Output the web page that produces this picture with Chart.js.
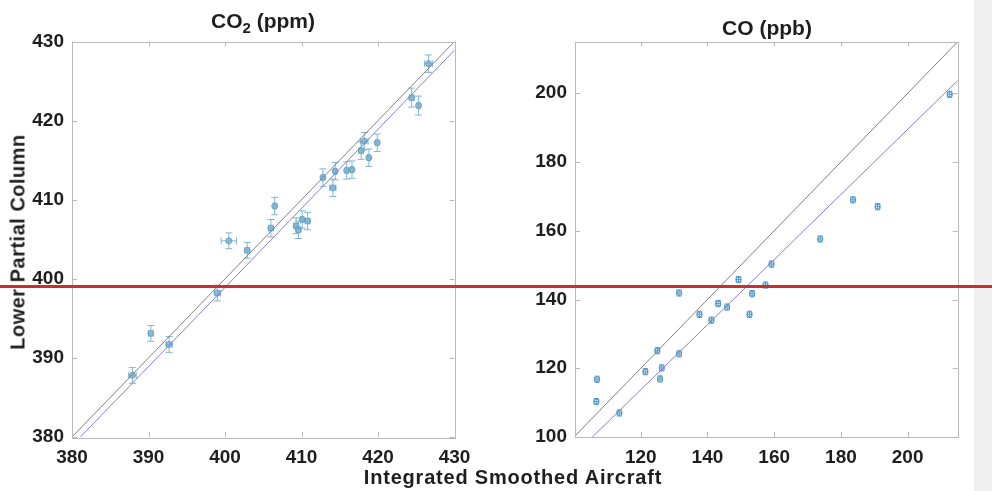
<!DOCTYPE html>
<html>
<head>
<meta charset="utf-8">
<script src="https://cdn.jsdelivr.net/npm/chart.js@4"></script>
<style>
  body { margin: 0; background: #fff; width: 992px; height: 491px; overflow: hidden; position: relative;
         font-family: "Liberation Sans", Arial, sans-serif; color: #1e1e1e; }
  .box { position: absolute; top: 0; height: 491px; }
  #leftBox { left: 0; width: 480px; }
  #rightBox { left: 490px; width: 484px; }
  #strip { position: absolute; left: 974px; top: 0; width: 18px; height: 491px; background: #f0f0f0; }
  .lbl { position: absolute; font-weight: bold; white-space: nowrap; }
  #t1 { left: 263px; top: 9px; font-size: 21px; transform: translateX(-50%); }
  #t1 sub { font-size: 15px; vertical-align: -5px; }
  #t2 { left: 767px; top: 16px; font-size: 21px; transform: translateX(-50%); }
  #ylab { left: 18px; top: 242px; font-size: 20px; letter-spacing: 0.5px; transform: translate(-50%, -50%) rotate(-90deg); }
  #xlab { left: 513px; top: 466px; font-size: 20px; letter-spacing: 0.8px; transform: translateX(-50%); }
  #redline { position: absolute; left: 0; top: 285px; width: 992px; height: 3px; background: #c8302c; }
</style>
</head>
<body>
<div id="strip"></div>
<div class="box" id="leftBox"><canvas id="co2_chart"></canvas></div>
<div class="box" id="rightBox"><canvas id="co_chart"></canvas></div>
<div class="lbl" id="t1">CO<sub>2</sub> (ppm)</div>
<div class="lbl" id="t2">CO (ppb)</div>
<div class="lbl" id="ylab">Lower Partial Column</div>
<div class="lbl" id="xlab">Integrated Smoothed Aircraft</div>
<div id="redline"></div>
<script>
// CO2 (ppm): aircraft vs lower partial column
var co2X = [387.9, 390.3, 392.7, 399.0, 400.5, 402.9, 406.0, 406.5, 409.3, 409.6, 410.1, 410.8,
            412.8, 414.1, 414.4, 415.9, 416.6, 417.8, 418.2, 418.8, 419.9, 424.4, 425.3, 426.6];
var co2Y = [387.8, 393.1, 391.7, 398.2, 404.8, 403.6, 406.4, 409.2, 406.7, 406.2, 407.5, 407.3,
            412.8, 411.5, 413.6, 413.7, 413.8, 416.2, 417.4, 415.3, 417.2, 422.9, 421.9, 427.2];
var co2ErrX = [0.5, 0.3, 0.4, 0.4, 1.0, 0.3, 0.3, 0.2, 0.3, 0.3, 0.2, 0.3,
               0.2, 0.4, 0.2, 0.2, 0.2, 0.3, 0.5, 0.2, 0.2, 0.3, 0.2, 0.5];
var co2ErrY = [1.0, 1.0, 1.0, 1.0, 1.0, 1.0, 1.1, 1.1, 1.0, 1.1, 1.1, 1.1,
               1.1, 1.1, 1.1, 1.1, 1.1, 1.1, 1.1, 1.1, 1.1, 1.2, 1.2, 1.1];
var co2OneX = [380, 430];
var co2FitX = [381.1, 430];
var co2FitY = [380, 428.9];
var co2Ticks = [380, 390, 400, 410, 420, 430];

// CO (ppb)
var coX = [106.7, 106.9, 113.6, 121.4, 125.0, 125.8, 126.3, 131.5, 131.5, 137.6, 141.2,
           143.2, 145.9, 149.3, 152.6, 153.4, 157.4, 159.2, 173.8, 183.6, 191.0, 212.6];
var coY = [110.3, 116.8, 107.0, 119.0, 125.1, 116.9, 120.1, 124.2, 141.9, 135.7, 134.0,
           138.8, 137.8, 145.8, 135.7, 141.7, 144.2, 150.3, 157.6, 169.0, 167.0, 199.7];
var coErrX = 0.7;
var coErrY = 0.9;
var coOneX = [100.3, 215];
var coFitX = [105.5, 215];
var coFitY = [100, 203.7];
var coTicksX = [120, 140, 160, 180, 200];
var coTicksY = [100, 120, 140, 160, 180, 200];

function pts(xs, ys) {
    var out = [];
    for (var i = 0; i < xs.length; i++) out.push({ x: xs[i], y: ys[i] });
    return out;
}

// error bars drawn through the chart scales
var errorBars = {
    id: 'errorBars',
    beforeDatasetsDraw: function (chart) {
        var ctx = chart.ctx, xs = chart.scales.x, ys = chart.scales.y;
        chart.data.datasets.forEach(function (ds) {
            if (!ds.errY) return;
            ctx.save();
            ctx.strokeStyle = ds.errColor;
            ctx.lineWidth = 1;
            var cap = ds.capSize;
            ds.data.forEach(function (p, i) {
                var ex = Array.isArray(ds.errX) ? ds.errX[i] : ds.errX;
                var ey = Array.isArray(ds.errY) ? ds.errY[i] : ds.errY;
                var px = xs.getPixelForValue(p.x), py = ys.getPixelForValue(p.y);
                var y1 = ys.getPixelForValue(p.y + ey), y2 = ys.getPixelForValue(p.y - ey);
                var x1 = xs.getPixelForValue(p.x - ex), x2 = xs.getPixelForValue(p.x + ex);
                ctx.beginPath();
                ctx.moveTo(px, y1); ctx.lineTo(px, y2);
                ctx.moveTo(px - cap, y1); ctx.lineTo(px + cap, y1);
                ctx.moveTo(px - cap, y2); ctx.lineTo(px + cap, y2);
                ctx.moveTo(x1, py); ctx.lineTo(x2, py);
                ctx.moveTo(x1, py - cap); ctx.lineTo(x1, py + cap);
                ctx.moveTo(x2, py - cap); ctx.lineTo(x2, py + cap);
                ctx.stroke();
            });
            ctx.restore();
        });
    }
};

// matlab style box with inward ticks
var boxTicks = {
    id: 'boxTicks',
    afterDraw: function (chart) {
        var ctx = chart.ctx, a = chart.chartArea;
        var xs = chart.scales.x, ys = chart.scales.y;
        ctx.save();
        ctx.strokeStyle = '#b9b9b9';
        ctx.lineWidth = 1;
        ctx.strokeRect(Math.round(a.left) + 0.5, Math.round(a.top) + 0.5,
            Math.round(a.right - a.left), Math.round(a.bottom - a.top));
        ctx.beginPath();
        xs.ticks.forEach(function (t) {
            var x = Math.round(xs.getPixelForValue(t.value)) + 0.5;
            ctx.moveTo(x, a.bottom); ctx.lineTo(x, a.bottom - 5);
            ctx.moveTo(x, a.top); ctx.lineTo(x, a.top + 5);
        });
        ys.ticks.forEach(function (t) {
            var y = Math.round(ys.getPixelForValue(t.value)) + 0.5;
            ctx.moveTo(a.left, y); ctx.lineTo(a.left + 5, y);
            ctx.moveTo(a.right, y); ctx.lineTo(a.right - 5, y);
        });
        ctx.stroke();
        ctx.restore();
    }
};

function makeAxis(min, max, tickVals, fitSize, isY) {
    return {
        type: 'linear',
        min: min,
        max: max,
        afterBuildTicks: function (scale) {
            scale.ticks = tickVals.map(function (v) { return { value: v }; });
        },
        afterFit: function (scale) {
            if (isY) scale.width = fitSize; else scale.height = fitSize;
        },
        grid: { display: false, drawTicks: false },
        border: { display: false },
        ticks: {
            padding: isY ? 8 : 9,
            color: '#1e1e1e',
            maxRotation: 0,
            autoSkip: false,
            font: { family: 'Liberation Sans', size: 19, weight: 'bold' }
        }
    };
}

function InitializeGraph(id, pointData, errX, errY, oneX, fitX, fitY, xr, yr, xt, yt, yw, pad, style) {
    var ctx = document.getElementById(id);
    var data = {
        datasets: [{
            data: pts(oneX, oneX),
            showLine: true, fill: false, pointRadius: 0,
            borderColor: '#808080', borderWidth: 1
        }, {
            data: pts(fitX, fitY),
            showLine: true, fill: false, pointRadius: 0,
            borderColor: '#8080e0', borderWidth: 1
        }, {
            data: pointData,
            errX: errX, errY: errY,
            errColor: style.err, capSize: style.cap,
            pointRadius: style.r,
            borderWidth: 1,
            borderColor: style.border,
            backgroundColor: style.fill
        }]
    };
    return new Chart(ctx, {
        type: 'scatter',
        data: data,
        options: {
            responsive: true,
            maintainAspectRatio: false,
            animation: false,
            layout: { padding: pad },
            plugins: { legend: { display: false }, tooltip: { enabled: false } },
            scales: {
                x: makeAxis(xr[0], xr[1], xt, 54, false),
                y: makeAxis(yr[0], yr[1], yt, yw, true)
            }
        },
        plugins: [errorBars, boxTicks]
    });
}

InitializeGraph('co2_chart', pts(co2X, co2Y), co2ErrX, co2ErrY, co2OneX, co2FitX, co2FitY,
    [380, 430], [380, 430], co2Ticks, co2Ticks, 72,
    { top: 41.5, right: 25.5, left: 0, bottom: 0 },
    { r: 3, cap: 3.5, err: 'rgba(115,175,205,0.9)', border: 'rgba(85,150,190,0.8)', fill: 'rgba(120,175,205,0.75)' });

InitializeGraph('co_chart', pts(coX, coY), coErrX, coErrY, coOneX, coFitX, coFitY,
    [100.3, 215], [100, 215], coTicksX, coTicksY, 85,
    { top: 41.7, right: 16.3, left: 0, bottom: 0 },
    { r: 2.5, cap: 2.5, err: 'rgba(70,145,195,0.9)', border: 'rgba(70,145,195,0.9)', fill: 'rgba(255,255,255,0)' });
</script>
</body>
</html>
